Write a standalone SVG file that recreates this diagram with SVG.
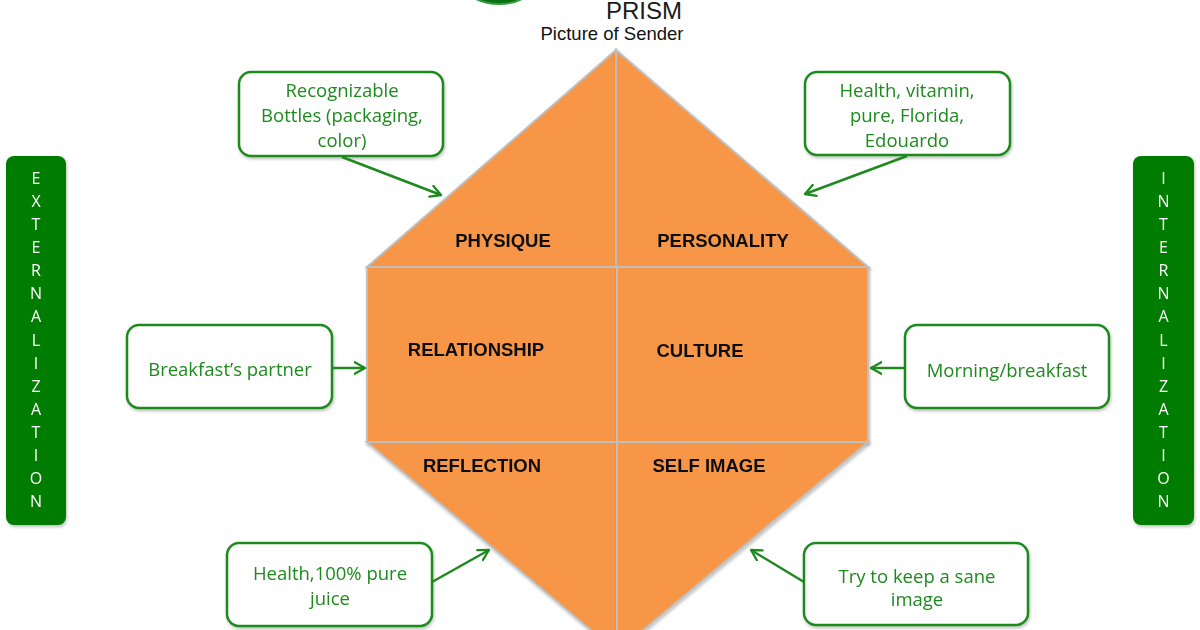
<svg xmlns="http://www.w3.org/2000/svg" width="1200" height="630" viewBox="0 0 1200 630">
  <defs>
    <style>
      .cell { fill: #f79646; stroke: #bfbfbf; stroke-width: 2; stroke-linejoin: miter; }
      .lbl { font-family: "Liberation Sans", Arial, sans-serif; font-weight: bold; font-size: 18.5px; fill: #111; text-anchor: middle; }
      .box { fill: #ffffff; stroke: #1e8a1e; stroke-width: 2.5; }
      .btxt { font-family: "Open Sans", "Liberation Sans", sans-serif; font-size: 18.5px; fill: #1e8a1e; text-anchor: middle; }
      .bar { fill: #047d04; }
      .vtxt { font-family: "Open Sans", "Liberation Sans", sans-serif; font-size: 16px; fill: #ffffff; text-anchor: middle; }
      .conn { stroke: #1e8a1e; stroke-width: 2.5; fill: none; marker-end: url(#arrow); }
    </style>
    <marker id="arrow" viewBox="0 0 12 12" refX="10" refY="6" markerWidth="5.5" markerHeight="5.5" markerUnits="strokeWidth" orient="auto">
      <path d="M1,1 L10,6 L1,11" fill="none" stroke="#1e8a1e" stroke-width="2" stroke-linecap="round" stroke-linejoin="round"/>
    </marker>
    <filter id="sh" x="-10%" y="-10%" width="130%" height="130%">
      <feDropShadow dx="1" dy="2" stdDeviation="1.5" flood-color="#000" flood-opacity="0.25"/>
    </filter>
  </defs>

  <rect width="1200" height="630" fill="#ffffff"/>

  <!-- partial green shape at top -->
  <g id="logo">
    <ellipse cx="499" cy="-24" rx="40" ry="28" fill="#0b6e12" stroke="#2e9a3a" stroke-width="2"/>
  </g>

  <g id="title">
    <text x="644" y="18.5" font-family="'Liberation Sans', Arial, sans-serif" font-size="24" fill="#1a1a1a" text-anchor="middle">PRISM</text>
    <text x="612" y="40" font-family="'Liberation Sans', Arial, sans-serif" font-size="18.5" fill="#111" text-anchor="middle">Picture of Sender</text>
  </g>

  <!-- prism cells -->
  <g id="physique" filter="url(#sh)">
    <polygon class="cell" points="616,50 367,267 616,267"/>
    <text class="lbl" x="503" y="247">PHYSIQUE</text>
  </g>
  <g id="personality" filter="url(#sh)">
    <polygon class="cell" points="616,50 868,267 616,267"/>
    <text class="lbl" x="723" y="247">PERSONALITY</text>
  </g>
  <g id="relationship" filter="url(#sh)">
    <rect class="cell" x="367" y="267" width="250" height="175"/>
    <text class="lbl" x="476" y="356">RELATIONSHIP</text>
  </g>
  <g id="culture" filter="url(#sh)">
    <rect class="cell" x="617" y="267" width="251" height="175"/>
    <text class="lbl" x="700" y="357">CULTURE</text>
  </g>
  <g id="reflection" filter="url(#sh)">
    <polygon class="cell" points="367,442 617,442 617,652"/>
    <text class="lbl" x="482" y="472">REFLECTION</text>
  </g>
  <g id="selfimage" filter="url(#sh)">
    <polygon class="cell" points="617,442 868,442 617,652"/>
    <text class="lbl" x="709" y="472">SELF IMAGE</text>
  </g>

  <!-- side bars -->
  <g id="externalization" filter="url(#sh)">
    <rect class="bar" x="6" y="156" width="60" height="369" rx="8"/>
    <text class="vtxt" x="36" y="184">E</text>
    <text class="vtxt" x="36" y="207">X</text>
    <text class="vtxt" x="36" y="230">T</text>
    <text class="vtxt" x="36" y="253">E</text>
    <text class="vtxt" x="36" y="276">R</text>
    <text class="vtxt" x="36" y="299">N</text>
    <text class="vtxt" x="36" y="322">A</text>
    <text class="vtxt" x="36" y="346">L</text>
    <text class="vtxt" x="36" y="369">I</text>
    <text class="vtxt" x="36" y="392">Z</text>
    <text class="vtxt" x="36" y="415">A</text>
    <text class="vtxt" x="36" y="438">T</text>
    <text class="vtxt" x="36" y="461">I</text>
    <text class="vtxt" x="36" y="484">O</text>
    <text class="vtxt" x="36" y="507">N</text>
  </g>
  <g id="internalization" filter="url(#sh)">
    <rect class="bar" x="1133" y="156" width="61" height="369" rx="8"/>
    <text class="vtxt" x="1163.5" y="184">I</text>
    <text class="vtxt" x="1163.5" y="207">N</text>
    <text class="vtxt" x="1163.5" y="230">T</text>
    <text class="vtxt" x="1163.5" y="253">E</text>
    <text class="vtxt" x="1163.5" y="276">R</text>
    <text class="vtxt" x="1163.5" y="299">N</text>
    <text class="vtxt" x="1163.5" y="322">A</text>
    <text class="vtxt" x="1163.5" y="346">L</text>
    <text class="vtxt" x="1163.5" y="369">I</text>
    <text class="vtxt" x="1163.5" y="392">Z</text>
    <text class="vtxt" x="1163.5" y="415">A</text>
    <text class="vtxt" x="1163.5" y="438">T</text>
    <text class="vtxt" x="1163.5" y="461">I</text>
    <text class="vtxt" x="1163.5" y="484">O</text>
    <text class="vtxt" x="1163.5" y="507">N</text>
  </g>

  <!-- callout boxes -->
  <g id="box-physique" filter="url(#sh)">
    <rect class="box" x="239" y="72" width="204" height="84" rx="12"/>
    <text class="btxt" x="342" y="97">Recognizable</text>
    <text class="btxt" x="342" y="122">Bottles (packaging,</text>
    <text class="btxt" x="342" y="147">color)</text>
  </g>
  <g id="box-personality" filter="url(#sh)">
    <rect class="box" x="805" y="72" width="205" height="83" rx="12"/>
    <text class="btxt" x="907" y="97">Health, vitamin,</text>
    <text class="btxt" x="907" y="122">pure, Florida,</text>
    <text class="btxt" x="907" y="147">Edouardo</text>
  </g>
  <g id="box-relationship" filter="url(#sh)">
    <rect class="box" x="127" y="325" width="205" height="83" rx="12"/>
    <text class="btxt" x="230" y="376">Breakfast’s partner</text>
  </g>
  <g id="box-culture" filter="url(#sh)">
    <rect class="box" x="905" y="325" width="204" height="83" rx="12"/>
    <text class="btxt" x="1007" y="377">Morning/breakfast</text>
  </g>
  <g id="box-reflection" filter="url(#sh)">
    <rect class="box" x="227" y="543" width="205" height="83" rx="12"/>
    <text class="btxt" x="330" y="580">Health,100% pure</text>
    <text class="btxt" x="330" y="605">juice</text>
  </g>
  <g id="box-selfimage" filter="url(#sh)">
    <rect class="box" x="804" y="543" width="224" height="82" rx="12"/>
    <text class="btxt" x="917" y="583">Try to keep a sane</text>
    <text class="btxt" x="917" y="606">image</text>
  </g>

  <!-- connectors -->
  <g id="connectors">
    <line class="conn" x1="342" y1="157" x2="441" y2="195"/>
    <line class="conn" x1="907" y1="156" x2="805" y2="194"/>
    <line class="conn" x1="332" y1="368" x2="365" y2="368"/>
    <line class="conn" x1="905" y1="368" x2="871" y2="368"/>
    <line class="conn" x1="432" y1="582" x2="489" y2="550"/>
    <line class="conn" x1="804" y1="582" x2="751" y2="550"/>
  </g>
</svg>
